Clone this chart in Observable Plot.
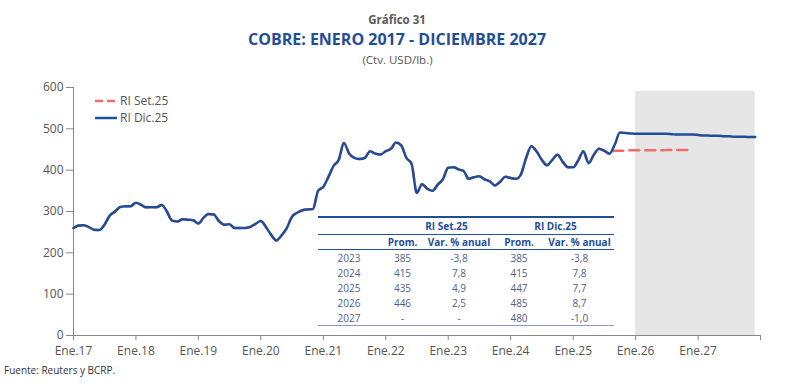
<!DOCTYPE html>
<html><head><meta charset="utf-8">
<script src="https://cdn.jsdelivr.net/npm/d3@7"></script>
<script src="https://cdn.jsdelivr.net/npm/@observablehq/plot@0.6"></script>
<style>
body{margin:0;background:#fff;font-family:"Open Sans",sans-serif;}
#wrap{position:relative;width:800px;height:390px;overflow:hidden;background:#fff;}
.t1{position:absolute;left:0;width:794px;top:12px;text-align:center;font-size:11.5px;font-weight:700;color:#5a5a5a;}
.t2{position:absolute;left:0;width:794px;top:28px;text-align:center;font-size:16px;font-weight:700;color:#1f4e99;}
.t3{position:absolute;left:0;width:795px;top:52px;text-align:center;font-size:11.5px;color:#555;}
#chart{position:absolute;left:0;top:70px;}
#legend{position:absolute;left:95px;top:92px;font-size:12px;color:#555;line-height:17px;}
#legend div{display:flex;align-items:center;}
#legend svg{margin-right:3px;}
#tbl{position:absolute;left:318px;top:216px;width:296px;border-collapse:collapse;font-size:10px;color:#4f6088;table-layout:fixed;}
#tbl td,#tbl th{padding:0;text-align:center;white-space:nowrap;}
#tbl th{color:#1f4e99;font-weight:700;}
#tbl tr.h1 th,#tbl tr.h1 td{height:16px;border-top:2px solid #1f4e99;border-bottom:1px solid #1f4e99;}
#tbl tr.h2 th,#tbl tr.h2 td{height:13px;border-bottom:1.5px solid #1f4e99;}
#tbl tr.r td{height:15px;}
#tbl tr.last td{border-bottom:1px solid #8c9cc0;}
.src{position:absolute;left:4px;top:363px;font-size:10px;color:#333;}
</style></head><body>
<div id="wrap">
  <div class="t1">Gráfico 31</div>
  <div class="t2">COBRE: ENERO 2017 - DICIEMBRE 2027</div>
  <div class="t3">(Ctv. USD/lb.)</div>
  <div id="chart"></div>
  <div id="legend"></div>
  <table id="tbl"></table>
  <div class="src">Fuente: Reuters y BCRP.</div>
</div>
<script>
// ---- data ----
const startMonth = "2017-01-01";
// RI Dic.25: monthly, Jan 2017 - Dec 2027 (ctv. USD/lb)
const dicValues = [
  260,266,267,262,256,255,268,290,300,311,313,313,   // 2017
  321,316,310,310,310,316,300,278,276,281,280,279,   // 2018
  271,285,294,293,277,268,269,260,260,260,263,270,   // 2019
  277,262,244,230,242,260,287,297,303,305,306,350,   // 2020
  360,385,410,425,466,440,430,427,430,446,440,438,   // 2021
  446,452,467,460,430,415,345,366,355,350,365,378,   // 2022
  406,407,402,398,379,383,385,378,373,363,372,384,   // 2023
  381,379,390,430,458,445,425,412,425,437,420,407,   // 2024
  407,425,446,417,437,452,447,440,462,491,490,489,   // 2025
  488,488,488,488,488,488,488,487,486,486,486,486,   // 2026
  485,484,484,483,483,482,482,481,481,481,480,480    // 2027
];
// RI Set.25: same history through Aug 2025, then forecast Sep 2025 - Dec 2026
const setHistoryMonths = 104;
const setForecast = [447,447,447,448,448,448,448,448,448,448,449,449,449,449,449,449];
const forecastStart = "2026-01-01";
const axisEnd = "2028-01-01";
const yTicks = [0,100,200,300,400,500,600];

// table
const tblYears = ["2023","2024","2025","2026","2027"];
const setProm = ["385","415","435","446","-"];
const setVar = ["-3,8","7,8","4,9","2,5","-"];
const dicProm = ["385","415","447","485","480"];
const dicVar = ["-3,8","7,8","7,7","8,7","-1,0"];
const seriesNames = ["RI Set.25","RI Dic.25"];

const blue = "#1f4e99", red = "#f06b6b";

// ---- build ----
const t0 = new Date(startMonth);
const dates = dicValues.map((_, i) => d3.utcMonth.offset(t0, i));
const dic = dicValues.map((v, i) => ({date: dates[i], value: v}));
const setVals = dicValues.slice(0, setHistoryMonths).concat(setForecast);
const set = setVals.map((v, i) => ({date: dates[i], value: v}));
const xTicks = d3.utcYear.range(t0, d3.utcDay.offset(new Date(axisEnd), 1));

const chart = Plot.plot({
  width: 800, height: 292,
  marginLeft: 73, marginRight: 40, marginTop: 17, marginBottom: 27,
  style: {fontFamily: "Open Sans", fontSize: "12px", color: "#555", background: "transparent", overflow: "visible"},
  x: {type: "utc", domain: [t0, new Date(axisEnd)], ticks: xTicks, tickSize: 5, tickPadding: 6, label: null,
      tickFormat: d => d.getUTCFullYear() < new Date(axisEnd).getUTCFullYear() ? "Ene." + String(d.getUTCFullYear()).slice(2) : ""},
  y: {domain: [0, 600], ticks: yTicks, tickSize: 7, tickPadding: 3, label: null},
  marks: [
    Plot.rect([{a: new Date(forecastStart), b: dates[dates.length - 1]}], {x1: "a", x2: "b", y1: 0, y2: 600, insetTop: 4, fill: "#e6e6e6"}),
    Plot.ruleY([0], {stroke: "#888"}),
    Plot.ruleX([t0], {stroke: "#888"}),
    Plot.lineY(set, {x: "date", y: "value", stroke: red, strokeWidth: 2.5, strokeDasharray: "10,6", curve: "monotone-x"}),
    Plot.lineY(dic, {x: "date", y: "value", stroke: blue, strokeWidth: 2.5, curve: "monotone-x"})
  ]
});
chart.querySelectorAll("[aria-label='x-axis tick'] path, [aria-label='y-axis tick'] path").forEach(p => p.setAttribute("stroke", "#888"));
document.getElementById("chart").appendChild(chart);

// legend
const lg = document.getElementById("legend");
[[seriesNames[0], red, "8,4"], [seriesNames[1], blue, null]].forEach(([name, c, dash]) => {
  const row = document.createElement("div");
  row.innerHTML = `<svg width="22" height="6"><line x1="0" x2="22" y1="3" y2="3" stroke="${c}" stroke-width="2.5" ${dash ? `stroke-dasharray="${dash}"` : ""}/></svg><span>${name}</span>`;
  lg.appendChild(row);
});

// table
const tbl = document.getElementById("tbl");
let html = `<colgroup><col style="width:62px"><col style="width:45px"><col style="width:68px"><col style="width:52px"><col style="width:69px"></colgroup>`;
html += `<tr class="h1"><td></td><th colspan="2" style="padding-left:20px">${seriesNames[0]}</th><th colspan="2" style="padding-left:4px">${seriesNames[1]}</th></tr>`;
html += `<tr class="h2"><td></td><th>Prom.</th><th>Var. % anual</th><th>Prom.</th><th>Var. % anual</th></tr>`;
tblYears.forEach((y, i) => {
  html += `<tr class="r${i === tblYears.length - 1 ? " last" : ""}"><td>${y}</td><td>${setProm[i]}</td><td>${setVar[i]}</td><td>${dicProm[i]}</td><td>${dicVar[i]}</td></tr>`;
});
tbl.innerHTML = html;
</script>
</body></html>
